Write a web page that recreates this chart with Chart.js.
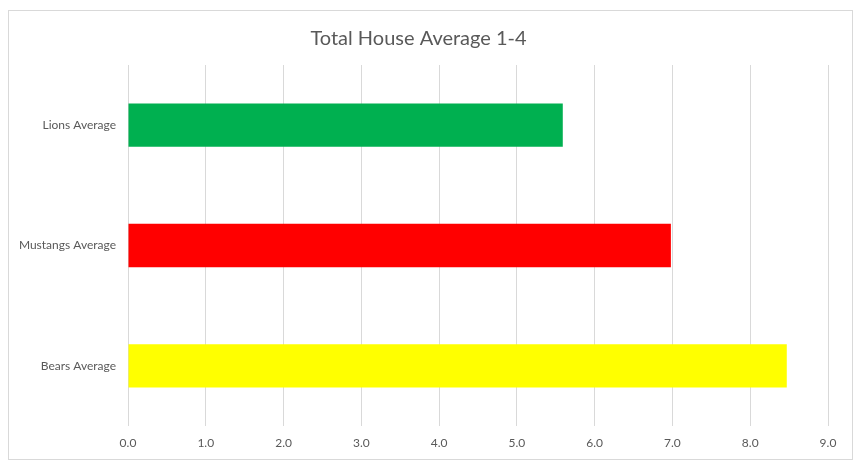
<!DOCTYPE html>
<html>
<head>
<meta charset="utf-8">
<script src="https://cdn.jsdelivr.net/npm/chart.js@4"></script>
<style>
  html, body { margin: 0; padding: 0; background: #fff; }
  #frame {
    position: absolute; left: 8px; top: 10px;
    width: 845px; height: 450px;
    box-sizing: border-box; border: 1px solid #d9d9d9;
  }
</style>
</head>
<body>
<div id="frame"><canvas id="houseChart"></canvas></div>
<script>
'use strict';

/* ── Data ───────────────────────────────────────────── */
const categories = ['Lions Average', 'Mustangs Average', 'Bears Average'];
const averages = [5.59, 6.98, 8.47];
const barColors = ['#00B050', '#FF0000', '#FFFF00'];
const axisMin = 0;
const axisMax = 9;
const axisStep = 1;

const TEXT = '#595959';
const GRID = '#d9d9d9';
const FONT = 'Lato, "Open Sans", sans-serif';

/* ── Chart ──────────────────────────────────────────── */
new Chart(document.getElementById('houseChart'), {
    type: 'bar',
    data: {
        labels: categories,
        datasets: [{
            data: averages,
            backgroundColor: barColors,
            borderWidth: 0,
            barPercentage: 0.36,
            categoryPercentage: 1
        }]
    },
    options: {
        indexAxis: 'y',
        responsive: true,
        maintainAspectRatio: false,
        animation: false,
        layout: { padding: { left: 0, right: 24, top: 0, bottom: 0 } },
        plugins: {
            legend: { display: false },
            tooltip: { enabled: false },
            title: {
                display: true,
                text: 'Total House Average 1-4',
                color: TEXT,
                font: { family: FONT, size: 20, weight: 'normal', lineHeight: 1.2 },
                padding: { top: 16, bottom: 14 }
            }
        },
        scales: {
            x: {
                min: axisMin,
                max: axisMax,
                ticks: {
                    stepSize: axisStep,
                    color: TEXT,
                    font: { family: FONT, size: 12 },
                    padding: 10,
                    callback: v => Number(v).toFixed(1)
                },
                grid: { color: GRID, drawTicks: false },
                border: { display: false },
                afterFit: scale => { scale.height = 33; }
            },
            y: {
                ticks: {
                    color: TEXT,
                    font: { family: FONT, size: 12 },
                    padding: 12
                },
                grid: { display: false, drawTicks: false },
                border: { display: false },
                afterFit: scale => { scale.width = 119; }
            }
        }
    }
});
</script>
</body>
</html>
